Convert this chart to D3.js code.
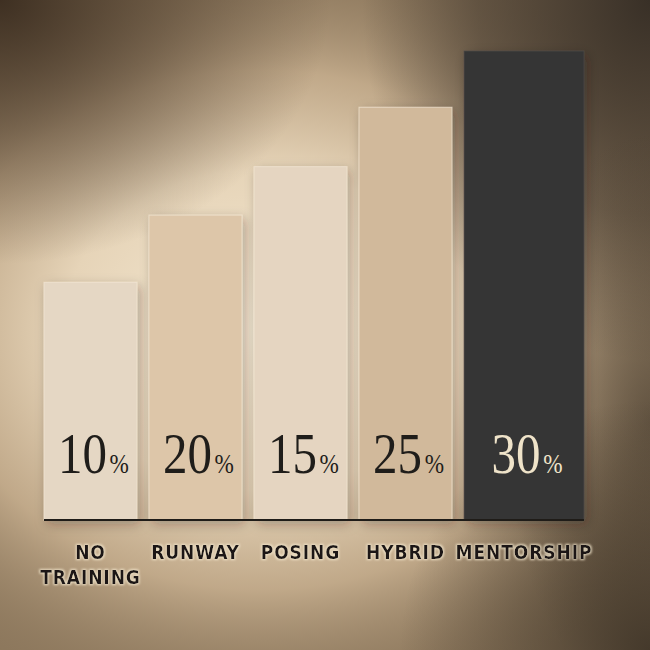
<!DOCTYPE html>
<html>
<head>
<meta charset="utf-8">
<script src="https://cdn.jsdelivr.net/npm/d3@7"></script>
<style>
  html, body { margin: 0; padding: 0; background: #3e3226; }
  #chart { width: 650px; height: 650px; }
  .cat { font-family: "DejaVu Sans Condensed", "DejaVu Sans", sans-serif; font-weight: bold; font-size: 19px; letter-spacing: 0.9px; fill: #1a1815; }
  .pct { font-family: "Liberation Serif", serif; }
</style>
</head>
<body>
<div id="chart"></div>
<script>
// data
const categories = ["NO TRAINING", "RUNWAY", "POSING", "HYBRID", "MENTORSHIP"];
const shownValues = [10, 20, 15, 25, 30];           // printed on the bars
const barLevels = [15.2, 19.5, 22.6, 26.4, 30];      // bar heights as drawn
const barColors = ["#e5d7c4", "#ddc6a9", "#e5d5c1", "#d1b99b", "#363534"];
const textColors = ["#1f1d1a", "#1f1d1a", "#1f1d1a", "#1f1d1a", "#efe3c9"];
const highlight = "MENTORSHIP";

const W = 650, H = 650;
const margin = {t: 51, l: 44, r: 93, b: 130};

const svg = d3.select("#chart").append("svg")
    .attr("width", W)
    .attr("height", H)
    .attr("viewBox", `0 0 ${W} ${H}`);

const defs = svg.append("defs");

function radial(id, cx, cy, r, sx, sy, stops) {
    const g = defs.append("radialGradient")
        .attr("id", id)
        .attr("gradientUnits", "userSpaceOnUse")
        .attr("cx", cx).attr("cy", cy).attr("r", r)
        .attr("gradientTransform", `translate(${cx},${cy}) scale(${sx},${sy}) translate(${-cx},${-cy})`);
    stops.forEach(([o, c, a]) => g.append("stop")
        .attr("offset", o).attr("stop-color", c).attr("stop-opacity", a));
}

// warm glow background, built from a few soft layers
radial("glow-bg", 260, 330, 470, 1.05, 0.85, [
    [0, "#f5e9d3", 1], [0.4, "#e6d4b8", 1], [0.65, "#c6ae8e", 0.9], [1, "#8c775c", 0]
]);
radial("dark-tl", 0, 0, 330, 1.0, 0.8, [
    [0, "#3a2c1f", 0.95], [0.5, "#4a3a2a", 0.55], [1, "#4a3a2a", 0]
]);
radial("dark-tr", 650, 0, 360, 0.8, 1.0, [
    [0, "#342c24", 0.95], [0.6, "#3e342a", 0.55], [1, "#3e342a", 0]
]);
radial("dark-r", 650, 420, 240, 0.6, 1.2, [
    [0, "#3e3428", 0.6], [1, "#3e3428", 0]
]);
radial("dark-br", 650, 650, 250, 1, 1, [
    [0, "#3a3024", 0.85], [1, "#3a3024", 0]
]);

const shadow = defs.append("filter").attr("id", "shadow")
    .attr("x", "-30%").attr("y", "-10%").attr("width", "160%").attr("height", "130%");
shadow.append("feDropShadow")
    .attr("dx", 3).attr("dy", 4).attr("stdDeviation", 6)
    .attr("flood-color", "#2a2016").attr("flood-opacity", 0.3);

const glow = defs.append("filter").attr("id", "glow")
    .attr("x", "-20%").attr("y", "-40%").attr("width", "140%").attr("height", "180%");
glow.append("feMorphology").attr("in", "SourceAlpha").attr("operator", "dilate").attr("radius", 0.8).attr("result", "d");
glow.append("feGaussianBlur").attr("in", "d").attr("stdDeviation", 0.8).attr("result", "b");
glow.append("feFlood").attr("flood-color", "#f3e6cc").attr("flood-opacity", 0.85);
glow.append("feComposite").attr("in2", "b").attr("operator", "in").attr("result", "g");
const gm = glow.append("feMerge");
gm.append("feMergeNode").attr("in", "g");
gm.append("feMergeNode").attr("in", "SourceGraphic");

svg.append("rect").attr("width", W).attr("height", H).attr("fill", "#8c775c");
["glow-bg", "dark-tl", "dark-tr", "dark-r", "dark-br"].forEach((id) =>
    svg.append("rect").attr("width", W).attr("height", H).attr("fill", `url(#${id})`));

const x = d3.scaleBand()
    .domain(categories)
    .range([margin.l, W - margin.r])
    .paddingInner(0.115)
    .paddingOuter(0);

// the highlighted bar is drawn wider than the rest
const barW = (d) => d.cat === highlight ? x.bandwidth() * 1.29 : x.bandwidth();
const barMid = (d) => x(d.cat) + barW(d) / 2;

const y = d3.scaleLinear()
    .domain([0, 30])
    .range([H - margin.b, margin.t]);

const data = categories.map((c, i) => ({
    cat: c, shown: shownValues[i], level: barLevels[i],
    color: barColors[i], text: textColors[i]
}));

const bars = svg.append("g").attr("class", "bars")
    .selectAll("g")
    .data(data)
    .join("g");

bars.append("rect")
    .attr("x", (d) => x(d.cat))
    .attr("y", (d) => y(d.level))
    .attr("width", barW)
    .attr("height", (d) => y(0) - y(d.level))
    .attr("fill", (d) => d.color)
    .attr("stroke", (d) => d.cat === highlight ? "#4e4b47" : "#f2e7d4")
    .attr("stroke-opacity", 0.7)
    .attr("stroke-width", 1)
    .attr("filter", "url(#shadow)");

// percent labels
const pct = bars.append("text")
    .attr("class", "pct")
    .attr("text-anchor", "middle")
    .attr("transform", (d) => `translate(${barMid(d) + 3},${y(0) - 47}) scale(0.86,1)`)
    .attr("fill", (d) => d.text);
pct.append("tspan").attr("font-size", 57).text((d) => d.shown);
pct.append("tspan").attr("font-size", 27).attr("dx", 3).text("%");

// baseline
const last = data[data.length - 1];
svg.append("line")
    .attr("x1", margin.l).attr("x2", x(last.cat) + barW(last))
    .attr("y1", y(0)).attr("y2", y(0))
    .attr("stroke", "#1f1c18").attr("stroke-width", 2);

// category labels
const cats = svg.append("g").attr("class", "cats")
    .selectAll("text")
    .data(data)
    .join("text")
    .attr("class", "cat")
    .attr("text-anchor", "middle")
    .attr("filter", "url(#glow)")
    .attr("y", y(0) + 39);

cats.each(function (d) {
    const words = d.cat === "NO TRAINING" ? ["NO", "TRAINING"] : [d.cat];
    d3.select(this).selectAll("tspan")
        .data(words)
        .join("tspan")
        .attr("x", barMid(d))
        .attr("dy", (w, i) => i === 0 ? 0 : 25)
        .text((w) => w);
});
</script>
</body>
</html>
